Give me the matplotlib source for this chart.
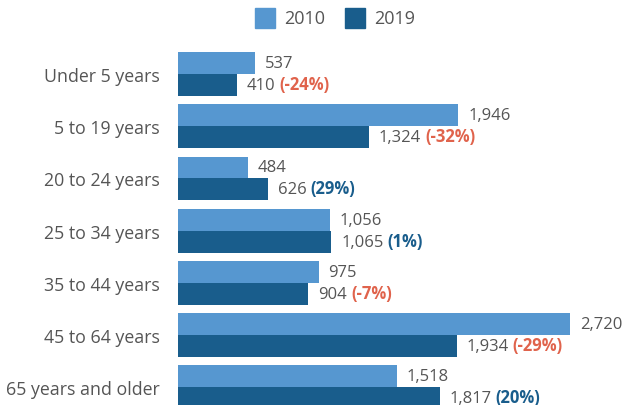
import matplotlib
matplotlib.use("Agg")
import matplotlib.pyplot as plt
from matplotlib.patches import Rectangle

plt.rcParams["font.family"] = ["Open Sans", "DejaVu Sans"]

# population by age group, thousands
age_groups = ["Under 5 years", "5 to 19 years", "20 to 24 years", "25 to 34 years",
              "35 to 44 years", "45 to 64 years", "65 years and older"]
pop_2010 = [537, 1946, 484, 1056, 975, 2720, 1518]
pop_2019 = [410, 1324, 626, 1065, 904, 1934, 1817]
pct_change = [-24, -32, 29, 1, -7, -29, 20]

C2010 = "#5697d0"
C2019 = "#195d8c"
NEG = "#e0634c"
TXT = "#555555"

fig = plt.figure(figsize=(6.23, 4.06), dpi=100)
ax = fig.add_axes([178 / 623, 0, 1 - 178 / 623, (406 - 45) / 406])

bh = 0.42
ys = list(range(len(age_groups)))
ax.barh([y - bh / 2 for y in ys], pop_2010, height=bh, color=C2010)
ax.barh([y + bh / 2 for y in ys], pop_2019, height=bh, color=C2019)

for y, a, b, p in zip(ys, pop_2010, pop_2019, pct_change):
    ax.annotate(f"{a:,}", xy=(a, y - bh / 2), xytext=(7, 0), textcoords="offset points",
                va="center", ha="left", fontsize=12, color=TXT)
    t = ax.annotate(f"{b:,}", xy=(b, y + bh / 2), xytext=(7, 0), textcoords="offset points",
                    va="center", ha="left", fontsize=12, color=TXT)
    ax.annotate(f"({p}%)", xy=(1, 0), xycoords=t, xytext=(3, 0), textcoords="offset points",
                va="bottom", ha="left", fontsize=12, fontweight="bold",
                color=NEG if p < 0 else C2019)

ax.set_xlim(0, 3088)
ax.set_ylim(6.34, -0.575)
ax.set_yticks(ys)
ax.set_yticklabels(age_groups, fontsize=12.8, color=TXT)
ax.tick_params(axis="y", length=0, pad=13)
ax.set_xticks([])
for s in ax.spines.values():
    s.set_visible(False)

# legend along the top
for x0, lab, col in [(255, "2010", C2010), (345, "2019", C2019)]:
    fig.patches.append(Rectangle((x0 / 623, 1 - 29 / 406), 20 / 623, 20 / 406,
                                 transform=fig.transFigure, color=col))
    fig.text((x0 + 29) / 623, 1 - 19 / 406, lab, fontsize=13, color=TXT,
             va="center", ha="left")

fig.savefig("out.png", dpi=100)
